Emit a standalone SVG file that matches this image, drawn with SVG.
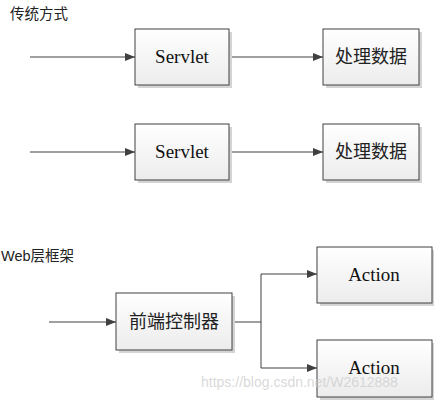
<svg xmlns="http://www.w3.org/2000/svg" width="434" height="400" viewBox="0 0 434 400">
<defs>
<linearGradient id="g" x1="0" y1="0" x2="0" y2="1">
<stop offset="0" stop-color="#ffffff"/>
<stop offset="1" stop-color="#ececec"/>
</linearGradient>
<marker id="arr" viewBox="0 0 10 10" refX="10" refY="5" markerWidth="10" markerHeight="10" markerUnits="userSpaceOnUse" orient="auto">
<path d="M0,1 L10,5 L0,9 Z" fill="#404040"/>
</marker>
<style>
.box{fill:url(#g);stroke:#404040;stroke-width:1}
.sh{fill:#d4d4d4}
.en{font-family:"Liberation Serif",serif;font-size:19px;fill:#111;text-anchor:middle}
.zh{font-family:"Noto Sans CJK SC",sans-serif;font-size:18px;fill:#222;text-anchor:middle}
.ttl{font-family:"Liberation Sans","Noto Sans CJK SC",sans-serif;font-size:14.5px;fill:#222}
.ln{fill:none;stroke:#404040;stroke-width:1}
.wm{font-family:"Liberation Sans",sans-serif;font-size:14px;fill:#cccccc;fill-opacity:0.75}
</style>
</defs>
<rect width="434" height="400" fill="#fff"/>
<text class="ttl" x="10" y="19">传统方式</text>
<text class="ttl" x="1" y="261">Web层框架</text>
<g id="connectors">
<line class="ln" x1="30" y1="57" x2="135" y2="57" marker-end="url(#arr)"/>
<line class="ln" x1="229" y1="57" x2="323" y2="57" marker-end="url(#arr)"/>
<line class="ln" x1="30" y1="152" x2="135" y2="152" marker-end="url(#arr)"/>
<line class="ln" x1="229" y1="152" x2="323" y2="152" marker-end="url(#arr)"/>
<line class="ln" x1="49" y1="322" x2="116" y2="322" marker-end="url(#arr)"/>
<polyline class="ln" points="233,322 261,322 261,274 317,274" marker-end="url(#arr)"/>
<polyline class="ln" points="261,322 261,368 317,368" marker-end="url(#arr)"/>
</g>
<g id="servlet1">
<rect class="sh" x="138" y="32" width="94" height="56"/>
<rect class="box" x="135" y="29" width="94" height="56"/>
<text class="en" x="182" y="63">Servlet</text>
</g>
<g id="data1">
<rect class="sh" x="326" y="32" width="96" height="56"/>
<rect class="box" x="323" y="29" width="96" height="56"/>
<text class="zh" x="371" y="63">处理数据</text>
</g>
<g id="servlet2">
<rect class="sh" x="138" y="127" width="94" height="56"/>
<rect class="box" x="135" y="124" width="94" height="56"/>
<text class="en" x="182" y="158">Servlet</text>
</g>
<g id="data2">
<rect class="sh" x="326" y="127" width="96" height="56"/>
<rect class="box" x="323" y="124" width="96" height="56"/>
<text class="zh" x="371" y="158">处理数据</text>
</g>
<g id="controller">
<rect class="sh" x="119" y="296" width="116" height="57"/>
<rect class="box" x="116" y="293" width="116" height="57"/>
<text class="zh" x="174" y="328">前端控制器</text>
</g>
<g id="action1">
<rect class="sh" x="320" y="250" width="115" height="56"/>
<rect class="box" x="317" y="247" width="115" height="56"/>
<text class="en" x="374" y="281">Action</text>
</g>
<g id="action2">
<rect class="sh" x="320" y="343" width="115" height="57"/>
<rect class="box" x="317" y="340" width="115" height="57"/>
<text class="en" x="374" y="374">Action</text>
</g>
<text class="wm" x="201" y="387">https://blog.csdn.net/W2612888</text>
</svg>
